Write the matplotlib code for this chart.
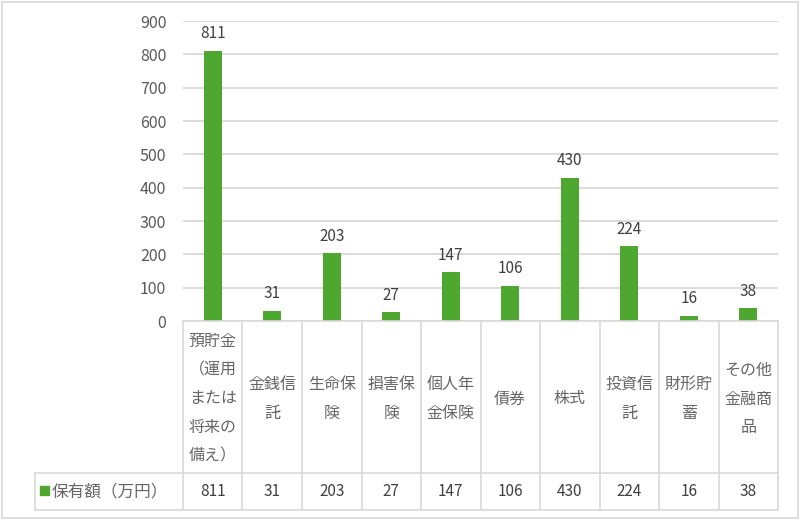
import matplotlib.pyplot as plt
from matplotlib.patches import Rectangle
from matplotlib.lines import Line2D

plt.rcParams['font.family'] = ['Noto Sans CJK JP', 'DejaVu Sans']

categories = ["預貯金\n（運用\nまたは\n将来の\n備え）", "金銭信\n託", "生命保\n険", "損害保\n険",
              "個人年\n金保険", "債券", "株式", "投資信\n託", "財形貯\n蓄", "その他\n金融商\n品"]
values = [811, 31, 203, 27, 147, 106, 430, 224, 16, 38]
series_name = "保有額（万円）"
yticks = [0, 100, 200, 300, 400, 500, 600, 700, 800, 900]

green = '#4ea72e'
grid = '#d9d9d9'
txt = '#595959'

W, H = 800, 521
fig = plt.figure(figsize=(8, 5.21), dpi=100)

# pixel helpers (y measured from top)
def fx(px):
    return px / W

def fy(py):
    return 1 - py / H

ax_l, ax_r, ax_t, ax_b = 183, 778, 21, 321
ax = fig.add_axes([fx(ax_l), fy(ax_b), fx(ax_r - ax_l), (ax_b - ax_t) / H])

x = list(range(len(values)))
ax.bar(x, values, width=0.31, color=green, zorder=3)
for xi, v in zip(x, values):
    ax.annotate(str(v), (xi, v), xytext=(0, 6), textcoords='offset points',
                ha='center', va='bottom', fontsize=11, color='#404040')

ax.set_xlim(-0.5, len(values) - 0.5)
ax.set_ylim(0, 900)
ax.set_yticks(yticks)
ax.set_yticklabels([str(t) for t in yticks], fontsize=11.5, color=txt)
ax.set_xticks([])
ax.tick_params(axis='y', length=0, pad=12)
ax.yaxis.grid(True, color=grid, linewidth=1.3, zorder=0)
for s in ax.spines.values():
    s.set_visible(False)

# data table drawn under the axes
row1, row2 = 473, 510
tab_l = 35
col_w = (ax_r - ax_l) / len(values)

def line(x0, y0, x1, y1):
    fig.add_artist(Line2D([fx(x0), fx(x1)], [fy(y0), fy(y1)], color=grid, linewidth=1.2))

line(ax_l, ax_b, ax_r, ax_b)
line(tab_l, row1, ax_r, row1)
line(tab_l, row2, ax_r, row2)
line(tab_l, row1, tab_l, row2)
for i in range(len(values) + 1):
    cx = ax_l + i * col_w
    line(cx, ax_b, cx, row2)

for i, (c, v) in enumerate(zip(categories, values)):
    cx = ax_l + (i + 0.5) * col_w
    fig.text(fx(cx), fy(399), c, ha='center', va='center', fontsize=11.5,
             color='#666666', linespacing=1.9)
    fig.text(fx(cx), fy(491.5), str(v), ha='center', va='center', fontsize=11,
             color='#404040')

fig.add_artist(Rectangle((fx(40), fy(495)), fx(9), 9 / H, color=green))
fig.text(fx(52), fy(491.5), series_name, ha='left', va='center', fontsize=12, color='#666666')

# outer chart border
fig.add_artist(Rectangle((fx(1.5), fy(518)), fx(796), 516.5 / H, fill=False,
                         edgecolor=grid, linewidth=1.2))

fig.savefig('out.png', dpi=100)
